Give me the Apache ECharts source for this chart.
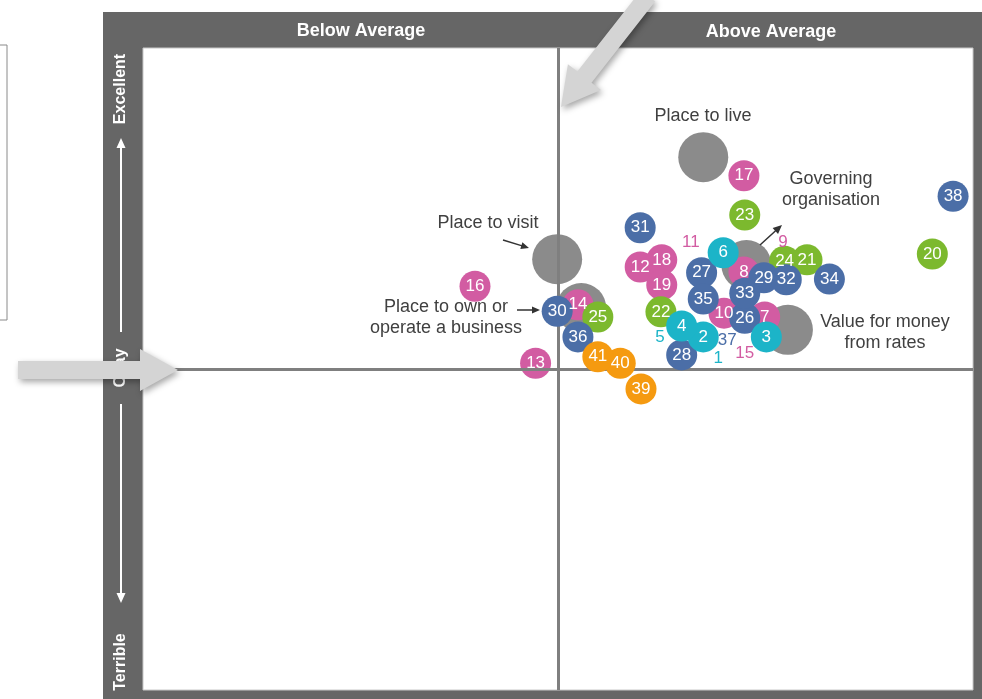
<!DOCTYPE html>
<html>
<head>
<meta charset="utf-8">
<script src="https://cdn.jsdelivr.net/npm/echarts@6/dist/echarts.min.js"></script>
<style>
  html, body { margin: 0; padding: 0; background: #fff; }
  #chart { width: 982px; height: 699px; }
</style>
</head>
<body>
<div id="chart"></div>
<script>
// 编号气泡：x = 相对平均值, y = 满意度 (0-100, 50 为中线)
const ids = [1, 2, 3, 4, 5, 6, 7, 8, 9, 10, 11, 12, 13, 14, 15, 16, 17, 18, 19, 20, 21,
  22, 23, 24, 25, 26, 27, 28, 29, 30, 31, 32, 33, 34, 35, 36, 37, 38, 39, 40, 41]
const xScore = [69.3, 67.5, 75.1, 64.9, 62.3, 69.9, 74.9, 72.4, 77.1, 70.0, 66.0, 59.9, 47.3, 52.4,
  72.5, 40.0, 72.4, 62.5, 62.5, 95.1, 80.0, 62.4, 72.5, 77.3, 54.8, 72.5, 67.3, 64.9, 74.8, 49.9,
  59.9, 77.5, 72.5, 82.7, 67.5, 52.4, 70.4, 97.6, 60.0, 57.5, 54.8]
const yScore = [51.7, 55.0, 55.0, 56.7, 55.0, 68.1, 58.1, 65.1, 69.8, 58.7, 69.8, 65.9, 50.9, 60.0,
  52.5, 62.9, 80.1, 67.0, 63.1, 67.9, 67.0, 58.9, 74.0, 66.8, 58.1, 57.9, 65.0, 52.2, 64.2, 59.0,
  72.0, 63.9, 61.8, 64.0, 60.9, 55.0, 54.4, 76.9, 46.9, 50.9, 51.9]
const groups = ['cyan', 'cyan', 'cyan', 'cyan', 'cyan', 'cyan',
  'pink', 'pink', 'pink', 'pink', 'pink', 'pink', 'pink', 'pink', 'pink', 'pink', 'pink', 'pink', 'pink',
  'green', 'green', 'green', 'green', 'green', 'green',
  'blue', 'blue', 'blue', 'blue', 'blue', 'blue', 'blue', 'blue', 'blue', 'blue', 'blue', 'blue', 'blue',
  'orange', 'orange', 'orange']
// 只显示数字、没有气泡的项
const labelOnly = [1, 5, 9, 11, 15, 37]

// 灰色大气泡（总体评价）
const regionNames = ['Place to live', 'Place to visit', 'Governing organisation', 'Value for money from rates', 'Place to own or operate a business']
const regionX = [67.5, 49.9, 72.7, 77.7, 52.8]
const regionY = [83.0, 67.1, 66.2, 56.1, 59.5]

const colors = {
  cyan: '#1cb4c8',
  pink: '#d25ca2',
  green: '#7cb92e',
  blue: '#4b6ea7',
  orange: '#f59a10',
  gray: '#8b8b8b'
}
// 从下到上的绘制顺序
const groupOrder = ['pink', 'green', 'blue', 'cyan', 'orange']

const FONT = 'Arial, "Liberation Sans", sans-serif'

function arrow (x1, y1, x2, y2, shaft, headLen, headW, color, extra) {
  const dx = x2 - x1
  const dy = y2 - y1
  const len = Math.sqrt(dx * dx + dy * dy)
  const ux = dx / len
  const uy = dy / len
  const nx = -uy
  const ny = ux
  const bx = x2 - ux * headLen
  const by = y2 - uy * headLen
  const s = shaft / 2
  const h = headW / 2
  const pts = [
    [x1 + nx * s, y1 + ny * s],
    [bx + nx * s, by + ny * s],
    [bx + nx * h, by + ny * h],
    [x2, y2],
    [bx - nx * h, by - ny * h],
    [bx - nx * s, by - ny * s],
    [x1 - nx * s, y1 - ny * s]
  ]
  return Object.assign({
    type: 'polygon',
    shape: { points: pts },
    style: { fill: color }
  }, extra || {})
}

function text (x, y, str, opts) {
  return {
    type: 'text',
    x: x,
    y: y,
    z: 50,
    style: Object.assign({
      text: str,
      fill: '#404040',
      font: '18px ' + FONT,
      align: 'center',
      verticalAlign: 'middle',
      lineHeight: 21
    }, opts || {})
  }
}

const chart = echarts.init(document.getElementById('chart'))

const series = []
series.push({
  name: 'regions',
  type: 'scatter',
  symbolSize: 50,
  itemStyle: { color: colors.gray, opacity: 1 },
  data: regionNames.map((n, i) => ({ name: n, value: [regionX[i], regionY[i]] })),
  z: 2,
  markLine: {
    silent: true,
    symbol: 'none',
    label: { show: false },
    lineStyle: { color: '#7f7f7f', width: 3, type: 'solid' },
    data: [{ xAxis: 50 }, { yAxis: 50 }]
  }
})
// 彩色气泡（不带文字）
groupOrder.forEach((g, k) => {
  const data = []
  ids.forEach((id, i) => {
    if (groups[i] === g && labelOnly.indexOf(id) < 0) {
      data.push({ name: String(id), value: [xScore[i], yScore[i]] })
    }
  })
  series.push({
    name: g,
    type: 'scatter',
    symbolSize: 31,
    itemStyle: { color: colors[g], opacity: 1 },
    data: data,
    z: 3 + k
  })
})
// 所有编号文字放在最上层
series.push({
  name: 'numbers',
  type: 'scatter',
  symbol: 'circle',
  symbolSize: 1,
  itemStyle: { color: '#ffffff', opacity: 0 },
  label: {
    show: true,
    position: 'inside',
    formatter: '{b}',
    fontSize: 17,
    fontFamily: FONT,
    opacity: 1,
    textBorderWidth: 0,
    textBorderColor: 'transparent'
  },
  data: ids.map((id, i) => ({
    name: String(id),
    value: [xScore[i], yScore[i]],
    label: { color: labelOnly.indexOf(id) >= 0 ? colors[groups[i]] : '#ffffff' }
  })),
  z: 20
})

const option = {
  animation: false,
  grid: { left: 143, top: 48, width: 830, height: 642 },
  xAxis: { type: 'value', min: 0, max: 100, show: false },
  yAxis: { type: 'value', min: 0, max: 100, show: false },
  graphic: [
    // 外框
    { type: 'rect', z: -10, shape: { x: 103, y: 12, width: 900, height: 700 }, style: { fill: '#666666' } },
    { type: 'rect', z: -9, shape: { x: 143, y: 48, width: 830, height: 642 }, style: { fill: '#ffffff', stroke: '#c8c8c8', lineWidth: 1 } },
    // 左侧残留的方框
    { type: 'rect', z: -9, shape: { x: -10, y: 45, width: 17, height: 275 }, style: { fill: 'none', stroke: '#8a8a8a', lineWidth: 1 } },
    text(361, 31, 'Below Average', { fill: '#ffffff', font: 'bold 18px ' + FONT }),
    text(771, 32, 'Above Average', { fill: '#ffffff', font: 'bold 18px ' + FONT }),
    Object.assign(text(121, 89, 'Excellent', { fill: '#ffffff', font: 'bold 16px ' + FONT }), { rotation: Math.PI / 2 }),
    Object.assign(text(121, 368, 'Okay', { fill: '#ffffff', font: 'bold 16px ' + FONT }), { rotation: Math.PI / 2 }),
    Object.assign(text(121, 662, 'Terrible', { fill: '#ffffff', font: 'bold 16px ' + FONT }), { rotation: Math.PI / 2 }),
    arrow(121, 332, 121, 138, 2, 10, 9, '#ffffff', { z: 50 }),
    arrow(121, 404, 121, 603, 2, 10, 9, '#ffffff', { z: 50 }),
    // 注释
    text(703, 116, 'Place to live'),
    text(831, 190, 'Governing\norganisation'),
    text(488, 223, 'Place to visit'),
    text(446, 318, 'Place to own or\noperate a business'),
    text(885, 333, 'Value for money\nfrom rates'),
    arrow(503, 240, 529, 248, 1.5, 8, 7, '#333333', { z: 50 }),
    arrow(517, 310, 540, 310, 1.5, 8, 7, '#333333', { z: 50 }),
    arrow(760, 245, 782, 225, 1.5, 9, 8, '#333333', { z: 50 }),
    // 灰色大箭头
    arrow(18, 370, 178, 370, 18, 38, 42, '#d4d4d4', { z: 100, style: { fill: '#d4d4d4', shadowBlur: 6, shadowColor: 'rgba(0,0,0,0.35)', shadowOffsetX: 2, shadowOffsetY: 3 } }),
    arrow(648, -4, 561, 107, 18, 38, 42, '#d4d4d4', { z: 100, style: { fill: '#d4d4d4', shadowBlur: 6, shadowColor: 'rgba(0,0,0,0.35)', shadowOffsetX: 2, shadowOffsetY: 3 } })
  ],
  series: series
}
chart.setOption(option)
</script>
</body>
</html>
